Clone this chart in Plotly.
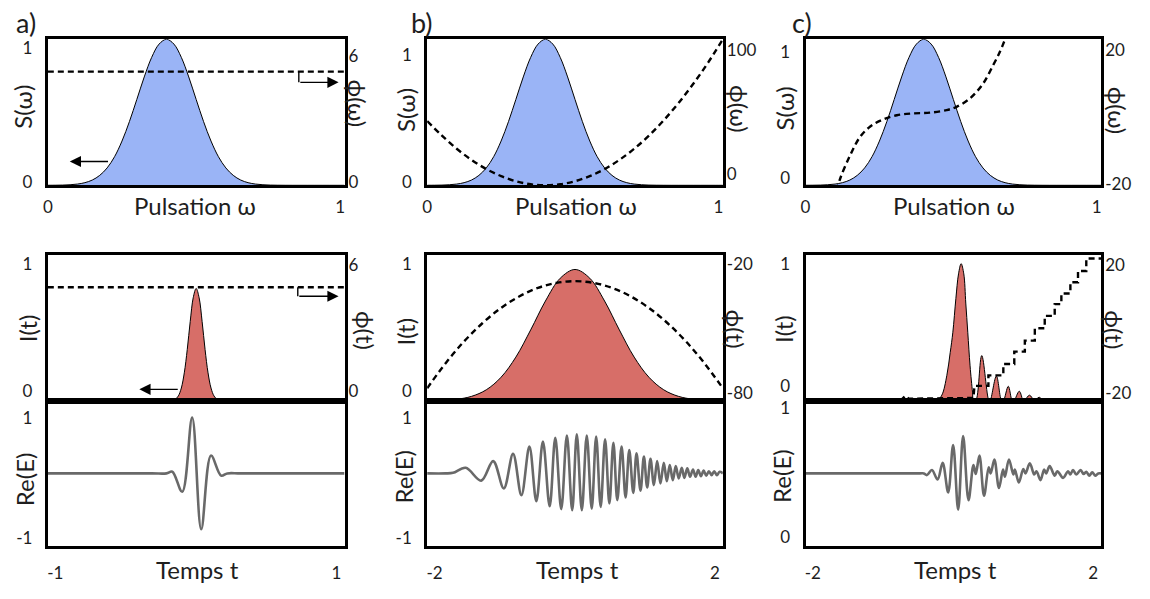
import plotly.graph_objects as go

# ---------------- data ----------------
omega = [0, 0.025, 0.05, 0.075, 0.1, 0.125, 0.15, 0.175, 0.2, 0.225, 0.25, 0.275,
         0.3, 0.325, 0.35, 0.375, 0.4, 0.425, 0.45, 0.475, 0.5, 0.525, 0.55, 0.575,
         0.6, 0.625, 0.65, 0.675, 0.7, 0.725, 0.75, 0.775, 0.8, 0.825, 0.85, 0.875,
         0.9, 0.925, 0.95, 0.975, 1.0]
spectrum_S = [0.0002, 0.0006, 0.0015, 0.0037, 0.0084, 0.018, 0.036, 0.068, 0.119, 0.196,
              0.303, 0.436, 0.588, 0.742, 0.876, 0.967, 1.0, 0.967, 0.876, 0.742, 0.588,
              0.436, 0.303, 0.196, 0.119, 0.068, 0.036, 0.018, 0.0084, 0.0037, 0.0015,
              0.0006, 0.0002, 0, 0, 0, 0, 0, 0, 0, 0]

# a) flat spectral phase
phase_a_omega = [0, 1]
phase_a_values = [4.67, 4.67]
# b) quadratic spectral phase
phase_b_omega = [0, 0.05, 0.1, 0.15, 0.2, 0.25, 0.3, 0.35, 0.4, 0.45, 0.5, 0.55, 0.6,
                 0.65, 0.7, 0.75, 0.8, 0.85, 0.9, 0.95, 1.0]
phase_b_values = [44, 34, 25, 17.4, 11.1, 6.3, 2.8, 0.7, 0, 0.7, 2.8, 6.3, 11.1, 17.4,
                  25, 34, 44.5, 56.3, 69.5, 84, 100]
# c) cubic spectral phase
phase_c_omega = [0.105, 0.118, 0.152, 0.185, 0.219, 0.258, 0.309, 0.365, 0.421, 0.477,
                 0.511, 0.556, 0.600, 0.634, 0.657, 0.673, 0.69]
phase_c_values = [-21.5, -18.0, -11.6, -6.7, -3.9, -2.1, -0.8, -0.3, -0.1, 0.6, 1.5, 3.8,
                  7.8, 12.8, 16.5, 19.6, 23]

# a) intensity and temporal phase
t_a = [-1, -0.2, -0.16, -0.14, -0.12, -0.10, -0.08, -0.06, -0.04, -0.02, 0, 0.02, 0.04,
       0.06, 0.08, 0.10, 0.12, 0.14, 0.16, 0.2, 1]
I_a = [0, 0, 0.003, 0.011, 0.034, 0.088, 0.192, 0.352, 0.544, 0.706, 0.77, 0.706, 0.544,
       0.352, 0.192, 0.088, 0.034, 0.011, 0.003, 0, 0]
phi_t_a_time = [-1, 1]
phi_t_a_values = [4.67, 4.67]

# b) intensity and temporal phase
t_b = [-2, -1.8, -1.6, -1.4, -1.2, -1.0, -0.8, -0.6, -0.4, -0.2, 0, 0.2, 0.4, 0.6, 0.8,
       1.0, 1.2, 1.4, 1.6, 1.8, 2]
I_b = [0.0006, 0.0035, 0.011, 0.031, 0.076, 0.162, 0.300, 0.486, 0.684, 0.840, 0.9, 0.840,
       0.684, 0.486, 0.300, 0.162, 0.076, 0.031, 0.011, 0.0035, 0.0006]
phi_t_b_time = [-2, -1.75, -1.5, -1.25, -1, -0.75, -0.5, -0.25, 0, 0.25, 0.5, 0.75, 1,
                1.25, 1.5, 1.75, 2]
phi_t_b_values = [-74.8, -64.5, -55.55, -48.0, -41.8, -37.0, -33.55, -31.5, -30.8, -31.5,
                  -33.55, -37.0, -41.8, -48.0, -55.55, -64.5, -74.8]

# c) intensity (main lobe + side lobes) and staircase temporal phase
t_c = [-2, -0.30, -0.222, -0.155, -0.088, -0.043, -0.007, 0.034, 0.070, 0.105, 0.141,
       0.168, 0.195, 0.226, 0.259, 0.272, 0.303, 0.384, 0.482, 0.496, 0.582, 0.653, 0.676,
       0.743, 0.797, 0.819, 0.892, 0.945, 0.959, 1.030, 1.094, 1.102, 1.161, 1.228, 1.290,
       1.350, 1.407, 1.468, 1.529, 1.582, 1.640, 1.704, 2]
I_c = [0, 0, 0, 0.04, 0.175, 0.33, 0.47, 0.70, 0.87, 0.94, 0.87, 0.67, 0.47, 0.24, 0.06,
       0, 0, 0.31, 0, 0, 0.17, 0, 0, 0.10, 0, 0, 0.066, 0, 0, 0.039, 0, 0, 0.025, 0, 0.016,
       0, 0.01, 0, 0.006, 0, 0.004, 0, 0]
phi_t_c_time = [-0.717, -0.649, -0.603, 0.272, 0.285, 0.474, 0.474, 0.676, 0.676, 0.824,
                0.824, 0.967, 0.967, 1.102, 1.102, 1.236, 1.236, 1.371, 1.371, 1.461, 1.461,
                1.583, 1.583, 1.686, 1.686, 1.798, 1.798, 2.0]
phi_t_c_values = [-20, -18.6, -19.4, -19.2, -15.9, -15.9, -13.0, -13.0, -9.9, -9.9, -6.5,
                  -6.5, -3.5, -3.5, -0.1, -0.1, 3.3, 3.3, 6.5, 6.5, 9.4, 9.4, 12.5, 12.5,
                  15.6, 15.6, 19.0, 19.0]

field_a_time = [-1.0, -0.3, -0.2, -0.161, -0.094, -0.027, 0.034, 0.10, 0.168, 0.21, 0.3, 1.0]
field_a_value = [0, 0, 0, 0.03, -0.33, 1.0, -1.0, 0.32, -0.04, 0, 0, 0]

field_b_time = [-2, -1.75, -1.65, -1.479, -1.269, -1.107, -0.963, -0.838, -0.725, -0.617,
                -0.523, -0.434, -0.343, -0.267, -0.186, -0.110, -0.038, 0.024, 0.092, 0.159,
                0.226, 0.286, 0.347, 0.407, 0.465, 0.519, 0.572, 0.630, 0.684, 0.734, 0.788,
                0.832, 0.886, 0.932, 0.976, 1.021, 1.067, 1.111, 1.156, 1.201, 1.242, 1.282,
                1.323, 1.363, 1.403, 1.444, 1.479, 1.519, 1.556, 1.596, 1.632, 1.667, 1.704,
                1.740, 1.775, 1.811, 1.848, 1.883, 1.919, 1.956, 2.0]
field_b_value = [0, 0, 0.01, 0.10, -0.13, 0.22, -0.27, 0.35, -0.39, 0.48, -0.50, 0.57,
                 -0.59, 0.64, -0.64, 0.68, -0.66, 0.70, -0.66, 0.68, -0.63, 0.66, -0.60,
                 0.61, -0.54, 0.55, -0.48, 0.48, -0.43, 0.42, -0.35, 0.36, -0.31, 0.30,
                 -0.25, 0.26, -0.21, 0.22, -0.18, 0.19, -0.14, 0.15, -0.12, 0.13, -0.09,
                 0.10, -0.08, 0.09, -0.06, 0.07, -0.06, 0.06, -0.05, 0.05, -0.04, 0.04,
                 -0.03, 0.04, -0.03, 0.03, 0]

field_c_time = [-2, -0.45, -0.40, -0.357, -0.290, -0.213, -0.145, -0.070, -0.003, 0.065,
                0.132, 0.205, 0.272, 0.303, 0.353, 0.415, 0.478, 0.505, 0.555, 0.617, 0.672,
                0.697, 0.752, 0.811, 0.832, 0.886, 0.946, 0.976, 1.034, 1.094, 1.125, 1.178,
                1.228, 1.255, 1.303, 1.371, 1.407, 1.484, 1.552, 1.582, 1.619, 1.663, 1.721,
                1.762, 1.798, 1.838, 1.879, 1.919, 1.960, 2.0]
field_c_value = [0, 0, 0, -0.03, 0.06, -0.11, 0.19, -0.34, 0.51, -0.65, 0.67, -0.48, 0.15,
                 -0.01, 0.32, -0.40, 0.11, 0.0, 0.25, -0.26, 0.07, -0.06, 0.25, -0.02, 0.07,
                 -0.16, 0.08, 0.0, 0.18, -0.02, 0.04, -0.12, 0.07, 0.0, 0.13, -0.04, 0.04,
                 -0.08, 0.04, -0.02, 0.06, -0.02, 0.06, -0.01, 0.03, -0.04, 0.02, -0.04, 0.0, 0]

panel_letters = ["a)", "b)", "c)"]
omega_tick_text = ["0", "1"]
time_tick_text = [["-1", "1"], ["-2", "2"], ["-2", "2"]]
S_tick_text = ["0", "1"]
I_tick_text = ["0", "1"]
phi_omega_tick_text = [["0", "6"], ["0", "100"], ["-20", "20"]]
phi_t_tick_text = [["0", "6"], ["-80", "-20"], ["-20", "20"]]
field_tick_text = [["-1", "1"], ["-1", "1"], ["0", "1"]]

# ---------------- style / layout ----------------
W, H = 1150, 599
FONT = "Lato, 'Open Sans', sans-serif"
TXT = "#1e1e1e"
BLUE = "#9ab4f6"
RED = "#d76e68"
GREY = "#696969"
DASH = "6px,4px"

COLS = [(43, 341), (424, 721), (804, 1101)]
ROWS = {"top": (36, 185), "mid": (256, 405), "bot": (405, 553)}

time_range = [[-1, 1], [-2, 2], [-2, 2]]
phi_omega_range = [[0, 6], [0, 100], [-20, 20]]
phi_t_range = [[0, 6], [-80, -20], [-20, 20]]
field_range = [-1.3, 1.3]

# label placement as fraction of each axis span (positions, not data)
frac_top_left = [[0.022, 0.94], [0.02, 0.89], [0.05, 0.91]]
frac_top_right = [[0.022, 0.886], [0.075, 0.925], [0.01, 0.925]]
frac_mid_left = [[0.067, 0.94], [0.067, 0.94], [0.10, 0.94]]
frac_mid_right = [[0.067, 0.933], [0.056, 0.94], [0.056, 0.93]]
frac_bot = [[0.054, 0.885], [0.054, 0.885], [0.062, 0.95]]
frac_x_top = [0.0, 0.985]
frac_x_bot = [0.025, 0.973]


def at(rng, fr):
    return [rng[0] + f * (rng[1] - rng[0]) for f in fr]


def xd(c):
    return [COLS[c][0] / W, COLS[c][1] / W]


def yd(r):
    return [1 - ROWS[r][1] / H, 1 - ROWS[r][0] / H]


def nm(p, i):
    return p if i == 1 else f"{p}{i}"


def key(p, i):
    return f"{p}axis" if i == 1 else f"{p}axis{i}"


base = dict(showgrid=False, zeroline=False, showline=True, linecolor="black", linewidth=3,
            mirror=True, ticks="", fixedrange=True,
            tickfont=dict(family=FONT, size=17, color=TXT))

fig = go.Figure()
layout = dict(width=W, height=H, margin=dict(l=0, r=0, t=0, b=0),
              paper_bgcolor="white", plot_bgcolor="white", showlegend=False,
              font=dict(family=FONT, size=17, color=TXT))
annotations = []
shapes = []

phase_omega_x = [phase_a_omega, phase_b_omega, phase_c_omega]
phase_omega_y = [phase_a_values, phase_b_values, phase_c_values]
I_x = [t_a, t_b, t_c]
I_y = [I_a, I_b, I_c]
phi_t_x = [phi_t_a_time, phi_t_b_time, phi_t_c_time]
phi_t_y = [phi_t_a_values, phi_t_b_values, phi_t_c_values]
field_x = [field_a_time, field_b_time, field_c_time]
field_y = [field_a_value, field_b_value, field_c_value]

for c in range(3):
    xt, xm, xb = 3 * c + 1, 3 * c + 2, 3 * c + 3
    ytl, ytr, yml, ymr, yb = 5 * c + 1, 5 * c + 2, 5 * c + 3, 5 * c + 4, 5 * c + 5
    trng = time_range[c]

    layout[key("x", xt)] = dict(base, domain=xd(c), range=[0, 1], anchor=nm("y", ytl),
                                tickmode="array", tickvals=at([0, 1], frac_x_top),
                                ticktext=omega_tick_text, ticklabelstandoff=4)
    layout[key("x", xm)] = dict(base, domain=xd(c), range=trng, anchor=nm("y", yml),
                                showticklabels=False)
    layout[key("x", xb)] = dict(base, domain=xd(c), range=trng, anchor=nm("y", yb),
                                tickmode="array", tickvals=at(trng, frac_x_bot),
                                ticktext=time_tick_text[c], ticklabelstandoff=10)

    layout[key("y", ytl)] = dict(base, domain=yd("top"), range=[0, 1], anchor=nm("x", xt),
                                 tickmode="array", tickvals=at([0, 1], frac_top_left[c]),
                                 ticktext=S_tick_text, ticklabelstandoff=9)
    layout[key("y", ytr)] = dict(base, showline=False, mirror=False, overlaying=nm("y", ytl),
                                 side="right", anchor=nm("x", xt), range=phi_omega_range[c],
                                 tickmode="array",
                                 tickvals=at(phi_omega_range[c], frac_top_right[c]),
                                 ticktext=phi_omega_tick_text[c], ticklabelstandoff=3)
    layout[key("y", yml)] = dict(base, domain=yd("mid"), range=[0, 1], anchor=nm("x", xm),
                                 tickmode="array", tickvals=at([0, 1], frac_mid_left[c]),
                                 ticktext=I_tick_text, ticklabelstandoff=9)
    layout[key("y", ymr)] = dict(base, showline=False, mirror=False, overlaying=nm("y", yml),
                                 side="right", anchor=nm("x", xm), range=phi_t_range[c],
                                 tickmode="array",
                                 tickvals=at(phi_t_range[c], frac_mid_right[c]),
                                 ticktext=phi_t_tick_text[c], ticklabelstandoff=3)
    layout[key("y", yb)] = dict(base, domain=yd("bot"), range=field_range, anchor=nm("x", xb),
                                tickmode="array", tickvals=at(field_range, frac_bot[c]),
                                ticktext=field_tick_text[c], ticklabelstandoff=9)

    # spectrum
    fig.add_trace(go.Scatter(x=omega, y=spectrum_S, mode="lines", fill="tozeroy",
                             fillcolor=BLUE, line=dict(color="black", width=1, shape="spline"),
                             xaxis=nm("x", xt), yaxis=nm("y", ytl), hoverinfo="skip"))
    fig.add_trace(go.Scatter(x=phase_omega_x[c], y=phase_omega_y[c], mode="lines",
                             line=dict(color="black", width=2.4, dash=DASH,
                                       shape="spline" if c > 0 else "linear"),
                             xaxis=nm("x", xt), yaxis=nm("y", ytr), hoverinfo="skip"))
    # intensity
    fig.add_trace(go.Scatter(x=I_x[c], y=I_y[c], mode="lines", fill="tozeroy",
                             fillcolor=RED, line=dict(color="black", width=1, shape="spline"),
                             xaxis=nm("x", xm), yaxis=nm("y", yml), hoverinfo="skip"))
    fig.add_trace(go.Scatter(x=phi_t_x[c], y=phi_t_y[c], mode="lines",
                             line=dict(color="black", width=2.4, dash=DASH,
                                       shape="spline" if c == 1 else "linear"),
                             xaxis=nm("x", xm), yaxis=nm("y", ymr), hoverinfo="skip"))
    # field
    fig.add_trace(go.Scatter(x=field_x[c], y=field_y[c], mode="lines",
                             line=dict(color=GREY, width=2.6, shape="spline"),
                             xaxis=nm("x", xb), yaxis=nm("y", yb), hoverinfo="skip"))

# ---- text labels (pixel centres converted to paper coords) ----
def txt(text, px, py, size=22, angle=0):
    annotations.append(dict(text=text, x=px / W, y=1 - py / H, xref="paper", yref="paper",
                            showarrow=False, textangle=angle, xanchor="center",
                            yanchor="middle",
                            font=dict(family=FONT, size=size, color=TXT)))

letter_pos = [(21, 19), (419, 19), (800, 19)]
xtitle_top = [(191, 206), (573, 206), (953, 206)]
xtitle_bot = [(193, 577), (575, 577), (955, 577)]
S_pos = [(18, 105), (403, 108), (783, 107)]
I_pos = [(22, 331), (402, 334), (782, 332)]
E_pos = [(19, 485), (400, 482), (780, 482)]
phiw_pos = [(354, 102), (737, 107), (1117, 109)]
phit_pos = [(362, 333), (734, 332), (1114, 332)]

for c in range(3):
    txt(panel_letters[c], *letter_pos[c], size=27)
    txt("Pulsation ω", *xtitle_top[c], size=24)
    txt("Temps t", *xtitle_bot[c], size=24)
    txt("S(ω)", *S_pos[c], size=24, angle=-90)
    txt("I(t)", *I_pos[c], size=24, angle=-90)
    txt("Re(E)", *E_pos[c], size=24, angle=-90)
    txt("ϕ(ω)", *phiw_pos[c], size=24, angle=90)
    txt("ϕ(t)", *phit_pos[c], size=24, angle=90)

# ---- arrows in panel a (which axis each curve belongs to) ----
arrow_style = dict(showarrow=True, arrowhead=2, arrowsize=1.6, arrowwidth=1.4,
                   arrowcolor="black", standoff=0, text="")
# spectrum -> left axis
annotations.append(dict(arrow_style, x=0.074, y=0.163, ax=0.208, ay=0.163,
                        xref="x", yref="y", axref="x", ayref="y"))
# spectral phase -> right axis
shapes.append(dict(type="line", x0=0.846, x1=0.846, y0=4.67, y1=4.23, xref="x", yref="y2",
                   line=dict(color="black", width=1.4)))
annotations.append(dict(arrow_style, x=0.98, y=4.23, ax=0.846, ay=4.23,
                        xref="x", yref="y2", axref="x", ayref="y2"))
# intensity -> left axis
annotations.append(dict(arrow_style, x=-0.383, y=0.079, ax=-0.114, ay=0.079,
                        xref="x2", yref="y3", axref="x2", ayref="y3"))
# temporal phase -> right axis
shapes.append(dict(type="line", x0=0.685, x1=0.685, y0=4.67, y1=4.30, xref="x2", yref="y4",
                   line=dict(color="black", width=1.4)))
annotations.append(dict(arrow_style, x=0.96, y=4.30, ax=0.685, ay=4.30,
                        xref="x2", yref="y4", axref="x2", ayref="y4"))

layout["annotations"] = annotations
layout["shapes"] = shapes
fig.update_layout(**layout)
fig.write_html("out.html", config={"displayModeBar": False},
               post_script="document.body.style.margin='0';"
                           "document.body.style.overflow='hidden';")
